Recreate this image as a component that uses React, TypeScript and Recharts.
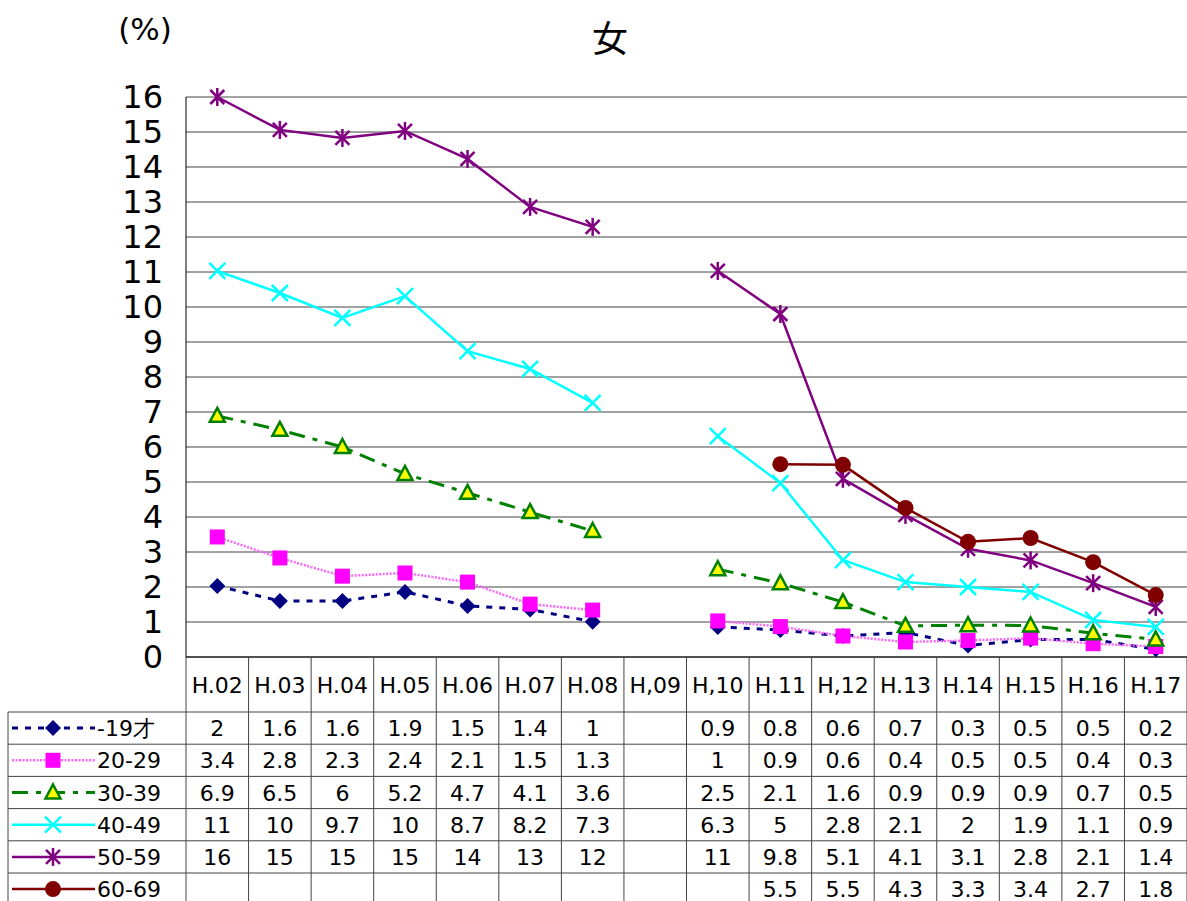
import { LineChart, Line, XAxis, YAxis, CartesianGrid } from 'recharts';

// 年度
const categories = ['H.02', 'H.03', 'H.04', 'H.05', 'H.06', 'H.07', 'H.08', 'H,09', 'H,10', 'H.11', 'H,12', 'H.13', 'H.14', 'H.15', 'H.16', 'H.17'];

// 年代別 (%)
const age19 = [2.03, 1.6, 1.6, 1.86, 1.46, 1.36, 1.01, null, 0.86, 0.77, 0.6, 0.7, 0.33, 0.5, 0.5, 0.22];
const age20 = [3.43, 2.83, 2.31, 2.4, 2.14, 1.51, 1.34, null, 1.03, 0.87, 0.6, 0.43, 0.47, 0.54, 0.38, 0.3];
const age30 = [6.89, 6.49, 6.0, 5.23, 4.69, 4.14, 3.6, null, 2.51, 2.11, 1.57, 0.89, 0.91, 0.9, 0.68, 0.5];
const age40 = [11.03, 10.4, 9.69, 10.31, 8.74, 8.23, 7.26, null, 6.31, 4.97, 2.77, 2.14, 2.0, 1.86, 1.06, 0.86];
const age50 = [16.0, 15.06, 14.83, 15.03, 14.23, 12.86, 12.29, null, 11.03, 9.8, 5.09, 4.06, 3.09, 2.76, 2.11, 1.43];
const age60 = [null, null, null, null, null, null, null, null, null, 5.51, 5.49, 4.26, 3.29, 3.4, 2.71, 1.77];

const yTicks = [0, 1, 2, 3, 4, 5, 6, 7, 8, 9, 10, 11, 12, 13, 14, 15, 16];

const series = [
  { key: 'a19', name: '-19才', values: age19, color: '#000080', width: 3, dash: '6 7', marker: 'diamond' },
  { key: 'a20', name: '20-29', values: age20, color: '#ff66ff', width: 2.5, dash: '2 1.5', marker: 'square' },
  { key: 'a30', name: '30-39', values: age30, color: '#008000', width: 3, dash: '16 8 5 8', marker: 'triangle' },
  { key: 'a40', name: '40-49', values: age40, color: '#00ffff', width: 2.5, dash: undefined, marker: 'x' },
  { key: 'a50', name: '50-59', values: age50, color: '#800080', width: 2.5, dash: undefined, marker: 'star' },
  { key: 'a60', name: '60-69', values: age60, color: '#800000', width: 2.5, dash: undefined, marker: 'circle' },
];

const data = categories.map((cat, i) => {
  const row: any = { cat };
  series.forEach((s) => { row[s.key] = s.values[i]; });
  return row;
});

const W = 1187;
const H = 901;
const PLOT_LEFT = 186;
const PLOT_TOP = 97;
const PLOT_BOTTOM = 657;
const HALF = (W - PLOT_LEFT) / categories.length / 2;
const TABLE_TOP = 712;
const ROW_H = 32.2;
const FONT = '"DejaVu Sans", sans-serif';
const LINE_COLOR = '#444';

const fmt = (v: number) => (v >= 10 ? String(Math.round(v)) : String(Number(v.toFixed(1))));

function Marker({ type, cx, cy, color }: { type: string; cx: number; cy: number; color: string }) {
  if (type === 'diamond') {
    return <polygon points={`${cx},${cy - 8} ${cx + 8},${cy} ${cx},${cy + 8} ${cx - 8},${cy}`} fill={color} />;
  }
  if (type === 'square') {
    return <rect x={cx - 7.5} y={cy - 7.5} width={15} height={15} fill="#ff00ff" />;
  }
  if (type === 'triangle') {
    return <polygon points={`${cx},${cy - 8} ${cx + 7.5},${cy + 6} ${cx - 7.5},${cy + 6}`} fill="#ffff00" stroke={color} strokeWidth={2.5} strokeLinejoin="miter" />;
  }
  if (type === 'x') {
    return (
      <g stroke={color} strokeWidth={2.5}>
        <line x1={cx - 8} y1={cy - 8} x2={cx + 8} y2={cy + 8} />
        <line x1={cx - 8} y1={cy + 8} x2={cx + 8} y2={cy - 8} />
      </g>
    );
  }
  if (type === 'star') {
    return (
      <g stroke={color} strokeWidth={2.5}>
        <line x1={cx - 7} y1={cy - 7} x2={cx + 7} y2={cy + 7} />
        <line x1={cx - 7} y1={cy + 7} x2={cx + 7} y2={cy - 7} />
        <line x1={cx} y1={cy - 9} x2={cx} y2={cy + 9} />
      </g>
    );
  }
  return <circle cx={cx} cy={cy} r={8} fill={color} />;
}

function makeDot(s: any) {
  return (props: any) => {
    const { cx, cy, value, index } = props;
    if (value == null || cy == null || isNaN(cy)) return <g key={`${s.key}-${index}`} />;
    return (
      <g key={`${s.key}-${index}`}>
        <Marker type={s.marker} cx={cx} cy={cy} color={s.color} />
      </g>
    );
  };
}

const rowCenter = (r: number) => TABLE_TOP + r * ROW_H + ROW_H / 2;

// one table column per category, aligned on the axis tick
function ColumnTick(props: any) {
  const { x, payload } = props;
  const idx = payload.index;
  const last = idx === categories.length - 1;
  return (
    <g>
      <line x1={x - HALF} x2={x - HALF} y1={PLOT_BOTTOM} y2={H} stroke={LINE_COLOR} strokeWidth={1} />
      {last && <line x1={x + HALF} x2={x + HALF} y1={PLOT_BOTTOM} y2={H} stroke={LINE_COLOR} strokeWidth={1} />}
      <text x={x} y={693} textAnchor="middle" fontSize={22} fontFamily={FONT} fill="#000">{payload.value}</text>
      {series.map((s, r) => {
        const v = s.values[idx];
        if (v == null) return null;
        return (
          <text key={s.key} x={x} y={rowCenter(r) + 8} textAnchor="middle" fontSize={22} fontFamily={FONT} fill="#000">
            {fmt(v)}
          </text>
        );
      })}
    </g>
  );
}

export default function App() {
  return (
    <div style={{ position: 'absolute', left: 0, top: 0, width: W, height: H, background: '#fff' }}>
      <LineChart width={W} height={H} data={data} margin={{ top: PLOT_TOP, right: 0, bottom: 0, left: 0 }}>
        <CartesianGrid vertical={false} stroke={LINE_COLOR} strokeWidth={1} />
        <XAxis
          dataKey="cat"
          height={H - PLOT_BOTTOM}
          padding={{ left: HALF, right: HALF }}
          interval={0}
          tickLine={false}
          axisLine={{ stroke: '#000' }}
          tick={<ColumnTick />}
        />
        <YAxis
          width={PLOT_LEFT}
          domain={[0, 16]}
          ticks={yTicks}
          interval={0}
          tickSize={0}
          tickMargin={23}
          axisLine={{ stroke: '#000' }}
          tick={{ fontSize: 32, fontFamily: FONT, fill: '#000' }}
        />
        {series.map((s) => (
          <Line
            key={s.key}
            dataKey={s.key}
            name={s.name}
            type="linear"
            stroke={s.color}
            strokeWidth={s.width}
            strokeDasharray={s.dash}
            dot={makeDot(s)}
            activeDot={false}
            connectNulls={false}
            isAnimationActive={false}
          />
        ))}
      </LineChart>
      <svg width={W} height={H} style={{ position: 'absolute', left: 0, top: 0, pointerEvents: 'none' }}>
        <text x={610} y={52} textAnchor="middle" fontSize={36} fontFamily='"Noto Sans CJK JP", sans-serif' fill="#000">女</text>
        <text x={145} y={40} textAnchor="middle" fontSize={31} fontFamily={FONT} fill="#000">(%)</text>
        {series.map((s, r) => (
          <line key={`h${r}`} x1={8} x2={W} y1={TABLE_TOP + r * ROW_H} y2={TABLE_TOP + r * ROW_H} stroke={LINE_COLOR} strokeWidth={1} />
        ))}
        <line x1={8} x2={8} y1={TABLE_TOP} y2={H} stroke={LINE_COLOR} strokeWidth={1} />
        {series.map((s, r) => {
          const cy = rowCenter(r);
          return (
            <g key={`lg${r}`}>
              <line x1={12} x2={95} y1={cy} y2={cy} stroke={s.color} strokeWidth={s.width} strokeDasharray={s.dash} />
              <Marker type={s.marker} cx={53} cy={cy} color={s.color} />
              <text x={97} y={cy + 8} fontSize={22} fontFamily={FONT} fill="#000">{s.name}</text>
            </g>
          );
        })}
      </svg>
    </div>
  );
}
